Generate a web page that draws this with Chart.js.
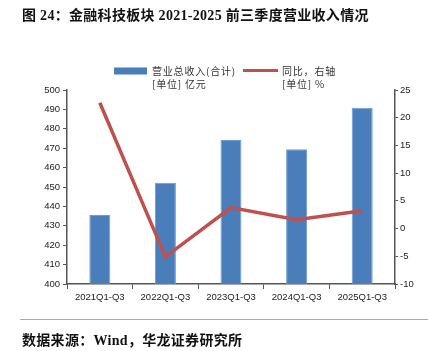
<!DOCTYPE html>
<html>
<head>
<meta charset="utf-8">
<script src="https://cdn.jsdelivr.net/npm/chart.js@4.4.1/dist/chart.umd.min.js"></script>
<style>
  html, body { margin: 0; padding: 0; background: #fff; }
  #wrap { width: 428px; height: 351px; position: relative; }
</style>
</head>
<body>
<div id="wrap"><canvas id="chart" width="428" height="351"></canvas></div>
<script>
const categories = ["2021Q1-Q3", "2022Q1-Q3", "2023Q1-Q3", "2024Q1-Q3", "2025Q1-Q3"];
const revenue = [435.6, 452.2, 474.2, 469.4, 490.9];   // 亿元
const yoy = [22.7, -5.1, 3.8, 1.6, 3.2];               // %
const leftTicks = [400, 410, 420, 430, 440, 450, 460, 470, 480, 490, 500];
const rightTicks = [-10, -5, 0, 5, 10, 15, 20, 25];

const barBlue = '#4A7EBB';
const lineRed = '#C0504D';
const axisGray = '#555555';
const cjk = '"Liberation Serif", "Noto Sans CJK SC", serif';

// title, legend and source line drawn on the canvas
const decorations = {
    id: 'decorations',
    afterDraw(chart) {
        const ctx = chart.ctx;
        ctx.save();
        ctx.fillStyle = '#111';
        ctx.textBaseline = 'middle';
        ctx.font = 'bold 14px ' + cjk;
        ctx.letterSpacing = '0.3px';
        ctx.fillText('图 24：金融科技板块 2021-2025 前三季度营业收入情况', 22, 16);
        ctx.fillText('数据来源：Wind，华龙证券研究所', 22, 341);

        // source separator
        ctx.strokeStyle = '#aaa';
        ctx.lineWidth = 1;
        ctx.beginPath();
        ctx.moveTo(20, 319.5);
        ctx.lineTo(428, 319.5);
        ctx.stroke();

        // legend
        ctx.font = '10px "Noto Sans CJK SC", sans-serif';
        ctx.letterSpacing = '0.8px';
        ctx.fillStyle = barBlue;
        ctx.fillRect(114, 67.5, 33, 7);
        ctx.fillStyle = '#333';
        ctx.fillText('营业总收入(合计)', 152, 71);
        ctx.fillText('[单位] 亿元', 152, 84);

        ctx.strokeStyle = lineRed;
        ctx.lineWidth = 3;
        ctx.beginPath();
        ctx.moveTo(243, 70.5);
        ctx.lineTo(278, 70.5);
        ctx.stroke();
        ctx.fillText('同比，右轴', 282, 71);
        ctx.fillText('[单位] %', 282, 84);
        ctx.restore();
    }
};

new Chart(document.getElementById('chart'), {
    type: 'bar',
    data: {
        labels: categories,
        datasets: [
            {
                type: 'line',
                label: '同比，右轴',
                data: yoy,
                yAxisID: 'y1',
                borderColor: lineRed,
                borderWidth: 3.5,
                pointRadius: 0,
                tension: 0,
                order: 0
            },
            {
                label: '营业总收入(合计)',
                data: revenue,
                yAxisID: 'y',
                backgroundColor: barBlue,
                borderColor: '#6F9AD3',
                borderWidth: 1,
                categoryPercentage: 1,
                barPercentage: 0.32,
                order: 1
            }
        ]
    },
    options: {
        responsive: false,
        animation: false,
        layout: { padding: { top: 90, left: 0, right: 0, bottom: 0 } },
        plugins: {
            legend: { display: false },
            tooltip: { enabled: false }
        },
        scales: {
            x: {
                offset: true,
                grid: { offset: true, drawOnChartArea: false, color: axisGray, tickLength: 5 },
                border: { color: axisGray, width: 1.5 },
                ticks: { color: '#222', font: { size: 9.5, family: 'Liberation Sans' }, padding: 3, maxRotation: 0 },
                afterFit(scale) { scale.height = 67; }
            },
            y: {
                position: 'left',
                min: 400, max: 500,
                afterBuildTicks(scale) { scale.ticks = leftTicks.map(v => ({ value: v })); },
                grid: { drawOnChartArea: false, color: axisGray, tickLength: 4 },
                border: { color: axisGray, width: 1.5 },
                ticks: { color: '#222', font: { size: 9.5, family: 'Liberation Sans' }, padding: 3 },
                afterFit(scale) { scale.width = 67; }
            },
            y1: {
                position: 'right',
                min: -10, max: 25,
                afterBuildTicks(scale) { scale.ticks = rightTicks.map(v => ({ value: v })); },
                grid: { drawOnChartArea: false, color: axisGray, tickLength: 3 },
                border: { color: axisGray, width: 1.5 },
                ticks: { color: '#222', font: { size: 9.5, family: 'Liberation Sans' }, padding: 2 },
                afterFit(scale) { scale.width = 33; }
            }
        }
    },
    plugins: [decorations]
});
</script>
</body>
</html>
